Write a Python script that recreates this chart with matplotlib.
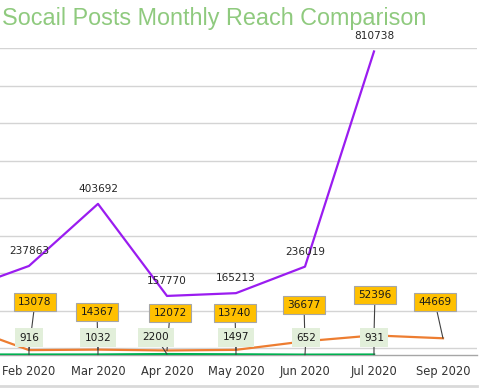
import matplotlib
matplotlib.use('Agg')
import matplotlib.pyplot as plt
from matplotlib.lines import Line2D
import numpy as np

months = ['Jan 2020', 'Feb 2020', 'Mar 2020', 'Apr 2020', 'May 2020',
          'Jun 2020', 'Jul 2020', 'Sep 2020']
purple_reach = [171000, 237863, 403692, 157770, 165213, 236019, 810738, np.nan]
orange_reach = [80000, 13078, 14367, 12072, 13740, 36677, 52396, 44669]
green_reach = [1000, 916, 1032, 2200, 1497, 652, 931, np.nan]

# label offsets in pixels (dx, dy) relative to the data point
orange_offsets = [(0, 40), (6, 48), (-1, 38), (3, 37), (-1, 37), (-1, 36), (1, 40), (-8, 36)]
green_offsets = [(0, 17), (0, 17), (0, 17), (-11, 17), (0, 17), (1, 17), (0, 17), (0, 17)]

fig = plt.figure(figsize=(4.89, 3.88), dpi=100)
ax = fig.add_axes([0, (388 - 355) / 388, 477 / 489, (355 - 48) / 388])

x = np.arange(len(months))

ax.plot(x, purple_reach, color='#9a1cf0', lw=1.6, zorder=3)
ax.plot(x, orange_reach, color='#ed7d31', lw=1.6, zorder=3)
ax.plot(x, green_reach, color='#00b050', lw=1.8, zorder=3)

grid_vals = [18700 + 100000 * k for k in range(9)]
ax.set_yticks(grid_vals)
ax.yaxis.grid(True, color='#d4d4d4', lw=1)
ax.set_axisbelow(True)
ax.tick_params(left=False, labelleft=False, bottom=False)

ax.set_xticks(x)
ax.set_xticklabels(months, fontsize=8.3, color='#333333', family='DejaVu Sans')
ax.tick_params(axis='x', pad=4)

# Jan sits just off the left edge, as in the cropped original
ax.set_xlim(0.58, 7.493)
ax.set_ylim(0, 820000)

for s in ['top', 'left', 'right']:
    ax.spines[s].set_visible(False)
ax.spines['bottom'].set_color('#a6a6a6')
ax.spines['bottom'].set_linewidth(1)

for i, v in enumerate(purple_reach):
    if np.isnan(v):
        continue
    ax.annotate(str(v), xy=(i, v), xytext=(0, 15), textcoords='offset pixels',
                ha='center', va='center', fontsize=7.6, color='#262626', zorder=6)

for i, v in enumerate(orange_reach):
    ax.annotate(str(v), xy=(i, v), xytext=orange_offsets[i], textcoords='offset pixels',
                ha='center', va='center', fontsize=7.6, color='#1a1a1a', zorder=4,
                bbox=dict(boxstyle='square,pad=0.38', fc='#ffc000', ec='#a6a6a6', lw=0.8),
                arrowprops=dict(arrowstyle='-', color='#404040', lw=0.8, shrinkA=0, shrinkB=0))

for i, v in enumerate(green_reach):
    if np.isnan(v):
        continue
    ax.annotate(str(v), xy=(i, v), xytext=green_offsets[i], textcoords='offset pixels',
                ha='center', va='center', fontsize=7.6, color='#1a1a1a', zorder=5,
                bbox=dict(boxstyle='square,pad=0.42', fc='#e2efda', ec='none'),
                arrowprops=dict(arrowstyle='-', color='#404040', lw=0.8, shrinkA=0, shrinkB=0))

fig.text(2 / 489, 1 - 19 / 388, 'Socail Posts Monthly Reach Comparison',
         fontsize=16.8, color='#8fca7e', family='Liberation Sans', ha='left', va='center')

fig.add_artist(Line2D([0, 477 / 489], [2 / 388, 2 / 388], color='#d9d9d9', lw=2,
                      transform=fig.transFigure))

fig.savefig('out.png', dpi=100)
